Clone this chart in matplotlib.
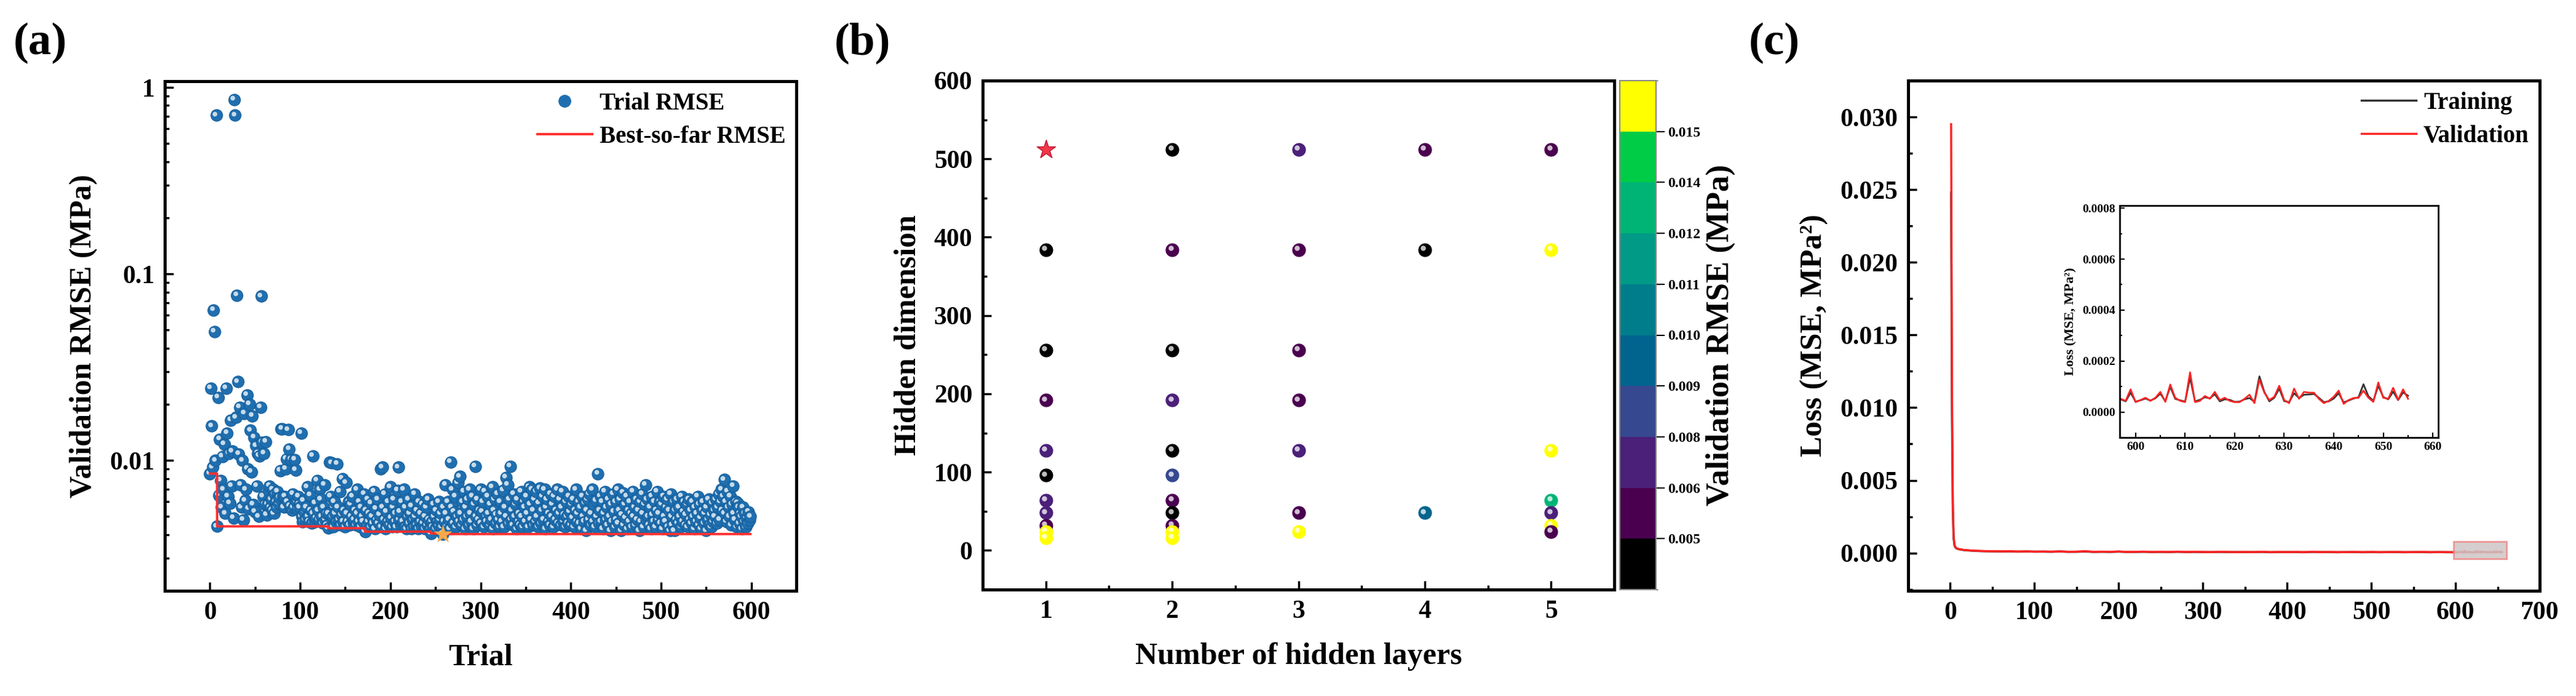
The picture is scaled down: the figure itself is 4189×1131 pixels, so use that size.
import numpy as np
import matplotlib
matplotlib.use('Agg')
import matplotlib.pyplot as plt
import matplotlib.transforms as mtransforms
from matplotlib.colors import ListedColormap, BoundaryNorm
from matplotlib.cm import ScalarMappable
from matplotlib.ticker import MultipleLocator, LogLocator, NullFormatter, FormatStrFormatter, FixedLocator
from matplotlib.patches import Rectangle
from matplotlib.lines import Line2D

plt.rcParams['font.family'] = ['Liberation Serif', 'DejaVu Serif']
plt.rcParams['font.weight'] = 'bold'
plt.rcParams['axes.labelweight'] = 'bold'

# ---------------- Panel (a) data: validation RMSE per trial (units 1e-5 MPa) -------------
trial_rmse_e5 = [
    850, 2440, 1530, 920, 6400, 4900, 1000, 71000, 443, 2180,
    650, 1300, 780, 560, 1050, 700, 1220, 520, 2440, 1400,
    640, 1090, 590, 1640, 730, 1120, 490, 86000, 71000, 1700,
    7700, 2640, 1080, 1930, 740, 560, 1000, 480, 1790, 610,
    700, 2240, 900, 550, 2000, 1450, 870, 1730, 580, 1330,
    530, 1200, 730, 1090, 500, 1060, 1930, 7600, 1250, 640,
    1090, 580, 1260, 510, 580, 690, 730, 560, 620, 540,
    700, 520, 660, 600, 560, 680, 590, 630, 880, 1480,
    1480, 640, 560, 640, 900, 1020, 600, 1460, 1150, 570,
    1010, 540, 660, 560, 1010, 890, 600, 550, 640, 580,
    560, 1400, 500, 470, 610, 530, 480, 560, 720, 500,
    470, 650, 540, 460, 1060, 520, 470, 590, 490, 780,
    540, 480, 700, 620, 500, 460, 560, 740, 480, 520,
    450, 433, 520, 980, 640, 970, 500, 440, 600, 520,
    470, 960, 560, 480, 680, 450, 510, 800, 470, 540,
    440, 760, 520, 470, 600, 450, 580, 500, 640, 460,
    480, 540, 450, 700, 520, 470, 600, 440, 560, 500,
    470, 660, 415, 540, 450, 620, 470, 520, 440, 590,
    500, 460, 680, 430, 550, 480, 620, 460, 510, 900,
    440, 920, 560, 480, 660, 430, 530, 470, 600, 450,
    720, 490, 440, 560, 620, 470, 520, 440, 690, 920,
    480, 530, 450, 600, 470, 700, 440, 560, 430, 500,
    620, 460, 520, 430, 570, 480, 440, 660, 500, 450,
    540, 430, 600, 470, 520, 440, 580, 460, 430, 500,
    560, 450, 620, 480, 430, 406, 470, 440, 580, 500,
    430, 540, 470, 450, 600, 480, 520, 440, 403, 560,
    470, 740, 520, 450, 600, 480, 430, 980, 560, 700,
    460, 530, 640, 440, 500, 760, 470, 820, 520, 450,
    600, 480, 680, 430, 560, 500, 620, 450, 700, 520,
    470, 640, 430, 580, 930, 500, 450, 620, 480, 540,
    700, 460, 530, 600, 440, 680, 500, 470, 640, 520,
    450, 580, 480, 720, 430, 540, 620, 460, 510, 660,
    480, 440, 600, 520, 470, 690, 440, 560, 810, 500,
    740, 460, 620, 930, 480, 540, 450, 660, 500, 580,
    430, 620, 470, 520, 450, 680, 500, 440, 600, 560,
    470, 640, 520, 440, 720, 580, 480, 700, 450, 540,
    620, 470, 680, 500, 440, 590, 710, 460, 540, 640,
    480, 700, 430, 560, 620, 470, 520, 450, 660, 500,
    580, 440, 640, 480, 540, 700, 460, 520, 620, 450,
    560, 680, 470, 510, 440, 600, 500, 460, 640, 530,
    450, 580, 490, 620, 440, 540, 700, 470, 520, 600,
    460, 560, 430, 640, 500, 470, 590, 420, 540, 620,
    480, 660, 450, 520, 700, 470, 580, 440, 610, 500,
    850, 460, 540, 640, 470, 600, 430, 520, 680, 480,
    560, 450, 620, 500, 420, 580, 470, 660, 530, 440,
    600, 480, 700, 460, 540, 620, 420, 510, 670, 450,
    580, 490, 640, 430, 540, 470, 600, 520, 440, 680,
    500, 560, 450, 620, 480, 540, 420, 600, 470, 660,
    520, 440, 580, 740, 480, 620, 500, 450, 560, 430,
    640, 510, 470, 600, 440, 540, 680, 480, 520, 600,
    460, 580, 430, 640, 500, 470, 560, 620, 440, 540,
    420, 660, 500, 450, 600, 420, 540, 480, 620, 460,
    560, 500, 440, 640, 470, 530, 600, 450, 510, 580,
    440, 620, 480, 540, 460, 600, 500, 430, 560, 470,
    520, 640, 450, 580, 490, 430, 540, 600, 460, 520,
    420, 560, 480, 620, 450, 510, 440, 590, 470, 540,
    500, 620, 460, 560, 660, 480, 600, 700, 540, 640,
    790, 520, 600, 470, 680, 560, 500, 640, 450, 580,
    730, 520, 480, 600, 440, 590, 560, 460, 520, 500,
    430, 560, 470, 520, 440, 490, 460, 530, 480, 500,
]

# ---------------- Panel (b) data -------------
layers_b = [1, 1, 1, 1, 1, 1, 1, 1, 1, 1, 1,
            2, 2, 2, 2, 2, 2, 2, 2, 2, 2, 2,
            3, 3, 3, 3, 3, 3, 3,
            4, 4, 4,
            5, 5, 5, 5, 5, 5, 5]
dims_b = [512, 384, 256, 192, 128, 96, 64, 48, 32, 24, 16,
          512, 384, 256, 192, 128, 96, 64, 48, 32, 24, 16,
          512, 384, 256, 192, 128, 48, 24,
          512, 384, 48,
          512, 384, 128, 64, 48, 32, 24]
rmse_b = [0.00403, 0.0046, 0.0047, 0.0056, 0.0068, 0.0048, 0.0066, 0.0067, 0.0057, 0.0170, 0.0190,
          0.0045, 0.0058, 0.0046, 0.0069, 0.0047, 0.0082, 0.0059, 0.0048, 0.0057, 0.0200, 0.0250,
          0.0070, 0.0060, 0.0058, 0.0057, 0.0068, 0.0059, 0.0180,
          0.0060, 0.0046, 0.0095,
          0.0060, 0.0220, 0.0300, 0.0130, 0.0071, 0.0160, 0.0058]
cbar_bounds = [0.00375, 0.005, 0.00625, 0.0075, 0.00875, 0.010, 0.01125, 0.0125, 0.01375, 0.015, 0.01625]
cbar_labels = ['0.005', '0.006', '0.008', '0.009', '0.010', '0.011', '0.012', '0.014', '0.015']
cbar_colors = ['#000000', '#4a004f', '#4b2079', '#354890', '#00648e', '#007d8b', '#009a86',
               '#00b476', '#00cc46', '#ffff00']

# ---------------- Panel (c) data (loss, units 1e-5 MPa^2) -------------
epochs_main = [1, 2, 3, 4, 5, 6, 7, 8, 9, 10, 12, 14, 16, 18, 20, 25, 30, 35, 40, 50,
               60, 70, 80, 90, 100, 110, 120, 130, 140, 150, 160, 170, 180, 190, 200,
               210, 220, 230, 240, 250, 260, 270, 280, 290, 300, 310, 320, 330, 340, 350,
               360, 370, 380, 390, 400, 410, 420, 430, 440, 450, 460, 470, 480, 490, 500,
               510, 520, 530, 540, 550, 560, 570, 580, 590]
val_main_e5 = [2950, 1180, 350, 115, 58, 42, 35, 31, 29, 27, 25, 23, 21, 20, 19, 17, 15, 14, 13, 12,
               11, 12, 10, 11, 9, 10, 9, 11, 8, 9, 12, 8, 9, 8, 10,
               7, 8, 9, 7, 8, 7, 9, 7, 8, 7, 6, 8, 7, 6, 7,
               6, 8, 6, 7, 6, 7, 6, 8, 6, 7, 6, 6, 7, 6, 7,
               6, 6, 7, 6, 6, 7, 6, 6, 6]
train_main_e5 = [2480, 950, 300, 100, 52, 39, 33, 30, 28, 26, 24, 22, 20, 19, 18, 16, 14, 13, 12, 11,
                 10, 11, 9, 10, 9, 9, 8, 10, 8, 8, 10, 7, 8, 7, 9,
                 7, 7, 8, 6, 7, 6, 8, 6, 7, 6, 6, 7, 6, 6, 6,
                 6, 7, 5, 6, 6, 6, 5, 7, 6, 6, 5, 6, 6, 5, 6,
                 5, 6, 6, 5, 6, 6, 5, 6, 5]
epochs_tail = list(range(597, 656))
val_tail_e5 = [5.2, 4.4, 8.9, 3.9, 4.7, 5.6, 4.4, 5.6, 7.9, 4.0,
               10.8, 5.6, 4.4, 3.9, 15.6, 3.9, 4.4, 6.3, 5.2, 7.9,
               4.7, 5.6, 4.4, 3.9, 3.9, 5.2, 6.8, 3.5, 12.7, 7.6,
               4.7, 6.0, 10.3, 4.7, 3.5, 9.2, 5.2, 7.9, 7.6, 7.6,
               5.2, 3.5, 4.4, 6.0, 8.4, 3.2, 4.7, 5.5, 5.6, 8.4,
               5.6, 4.0, 11.6, 5.6, 5.2, 9.5, 4.8, 8.9, 5.2]
train_tail_e5 = [5.0, 4.2, 7.6, 4.1, 4.6, 5.3, 4.5, 5.4, 7.2, 4.3,
                 9.9, 5.2, 4.6, 4.1, 13.4, 4.2, 4.8, 5.8, 5.4, 7.0,
                 4.2, 5.0, 4.8, 4.0, 4.1, 5.0, 5.5, 4.0, 14.0, 7.9,
                 4.2, 5.6, 9.2, 4.3, 3.9, 7.4, 5.5, 6.8, 6.9, 7.1,
                 5.6, 3.9, 4.2, 5.3, 7.4, 3.8, 4.5, 5.3, 5.8, 10.9,
                 6.2, 4.4, 10.3, 5.9, 5.0, 8.0, 4.7, 7.7, 6.4]

# ------------------------------------------------------------------
W, H = 4189, 1131
DPI = 100
fig = plt.figure(figsize=(W / DPI, H / DPI), dpi=DPI)


def frac(l, r, t, b):
    return [l / W, 1 - b / H, (r - l) / W, (b - t) / H]


def style(ax, lw=3.6, labelsize=30, major=10, minor=5, tw=2.5):
    for sp in ax.spines.values():
        sp.set_linewidth(lw)
    ax.tick_params(which='both', direction='in', top=False, right=False, width=tw,
                   labelsize=labelsize)
    ax.tick_params(which='major', length=major, pad=12)
    ax.tick_params(which='minor', length=minor)


def spheres(ax, xs, ys, colors, s, z0=3.0, edge=None):
    off = mtransforms.ScaledTranslation(-2.6 / DPI, 2.6 / DPI, fig.dpi_scale_trans)
    n = len(xs)
    for i in range(n):
        z = z0 + i / (n + 1)
        ec = edge if edge is not None else colors[i]
        ax.scatter([xs[i]], [ys[i]], s=s, color=colors[i], edgecolors=ec, linewidths=0.8, zorder=z)
        ax.scatter([xs[i]], [ys[i]], s=s * 0.16, color='white', alpha=0.75, linewidths=0,
                   transform=ax.transData + off, zorder=z + 0.5 / (n + 1))


# ---------------- Panel (a) -------------
ax1 = fig.add_axes(frac(268, 1295, 132, 960))
style(ax1)
rmse_a = np.array(trial_rmse_e5) * 1e-5
trials = np.arange(len(rmse_a))
best = np.minimum.accumulate(rmse_a)
ax1.set_yscale('log')
ax1.set_xlim(-50, 650)
ax1.set_ylim(0.002, 1.08)
spheres(ax1, trials, rmse_a, ['#1f6fb0'] * len(trials), s=190, edge='#155c98')
ax1.step(trials, best, where='post', color='#ff3030', lw=2.8, zorder=10)
ib = int(np.argmin(rmse_a))
ax1.scatter([trials[ib]], [rmse_a[ib]], marker='*', s=520, color='#f6a84a', zorder=11, linewidths=0)
ax1.set_xticks(np.arange(0, 601, 100))
ax1.xaxis.set_minor_locator(MultipleLocator(50))
ax1.yaxis.set_major_locator(FixedLocator([0.01, 0.1, 1]))
ax1.set_yticklabels(['0.01', '0.1', '1'])
ax1.yaxis.set_minor_locator(LogLocator(base=10, subs=np.arange(2, 10)))
ax1.yaxis.set_minor_formatter(NullFormatter())
ax1.set_xlabel('Trial', fontsize=36, labelpad=22)
ax1.set_ylabel('Validation RMSE (MPa)', fontsize=36, labelpad=14)
h1 = [Line2D([], [], marker='o', ls='', color='#1f6fb0', markersize=14),
      Line2D([], [], color='#ff3030', lw=2.8)]
ax1.legend(h1, ['Trial RMSE', 'Best-so-far RMSE'], loc='upper right', frameon=False, fontsize=28,
           handlelength=2.3, handletextpad=0.3, labelspacing=0.45, borderaxespad=0.25,
           borderpad=0.2)

# ---------------- Panel (b) -------------
ax2 = fig.add_axes(frac(1598, 2625, 131, 958))
style(ax2)
cmap = ListedColormap(cbar_colors)
norm = BoundaryNorm(cbar_bounds, cmap.N, clip=True)
ax2.set_xlim(0.5, 5.5)
ax2.set_ylim(-50, 600)
ib2 = int(np.argmin(rmse_b))
idx = [i for i in range(len(layers_b)) if i != ib2]
cols = [cmap(norm(rmse_b[i])) for i in idx]
spheres(ax2, [layers_b[i] for i in idx], [dims_b[i] for i in idx], cols, s=230)
ax2.scatter([layers_b[ib2]], [dims_b[ib2]], marker='*', s=520, color='#f0384a',
            edgecolors='#c0102a', linewidths=1.0, zorder=20)
ax2.set_xticks([1, 2, 3, 4, 5])
ax2.xaxis.set_minor_locator(MultipleLocator(0.5))
ax2.set_yticks(np.arange(0, 601, 100))
ax2.yaxis.set_minor_locator(MultipleLocator(50))
ax2.set_xlabel('Number of hidden layers', fontsize=36, labelpad=22)
ax2.set_ylabel('Hidden dimension', fontsize=36, labelpad=14)

cax = fig.add_axes(frac(2634, 2693, 131, 958))
sm = ScalarMappable(norm=norm, cmap=cmap)
cb = fig.colorbar(sm, cax=cax, ticks=cbar_bounds[1:-1])
cb.set_ticklabels(cbar_labels)
cb.ax.tick_params(labelsize=17, length=10, width=1.5, direction='out', pad=4)
cb.outline.set_edgecolor('#888888')
cb.outline.set_linewidth(1.5)
cb.set_label('Validation RMSE (MPa)', fontsize=38, labelpad=6)

# ---------------- Panel (c) -------------
ax3 = fig.add_axes(frac(3103, 4130, 131, 960))
style(ax3)
ep = np.array(epochs_main + epochs_tail)
val = np.array(val_main_e5 + val_tail_e5) * 1e-5
trn = np.array(train_main_e5 + train_tail_e5) * 1e-5
ax3.plot(ep, trn, color='#333333', lw=2.5, label='Training', zorder=3)
ax3.plot(ep, val, color='#ff2424', lw=2.5, label='Validation', zorder=4)
ax3.add_patch(Rectangle((597.5, -0.0004), 63, 0.0012, facecolor='#cfc6c6', edgecolor='#f08888',
                        lw=2, alpha=0.85, zorder=5))
ax3.set_xlim(-50, 700)
ax3.set_ylim(-0.0026, 0.0325)
ax3.set_xticks(np.arange(0, 701, 100))
ax3.xaxis.set_minor_locator(MultipleLocator(50))
ax3.set_yticks(np.arange(0, 0.0301, 0.005))
ax3.yaxis.set_minor_locator(MultipleLocator(0.0025))
ax3.yaxis.set_major_formatter(FormatStrFormatter('%.3f'))
ax3.set_ylabel('Loss (MSE, MPa²)', fontsize=36, labelpad=14)
ax3.legend(loc='upper right', frameon=False, fontsize=28, handlelength=2.3, handletextpad=0.3,
           labelspacing=0.45, borderaxespad=0.25, borderpad=0.2)

axin = fig.add_axes(frac(3447, 3965, 334, 711))
style(axin, lw=2.0, labelsize=14, major=6, minor=3, tw=1.6)
axin.tick_params(which='major', pad=5)
axin.plot(epochs_tail, np.array(train_tail_e5) * 1e-5, color='#333333', lw=2.0)
axin.plot(epochs_tail, np.array(val_tail_e5) * 1e-5, color='#ff2424', lw=2.0)
axin.set_xlim(596.8, 661.1)
axin.set_ylim(-0.0001, 0.00081)
axin.set_xticks(np.arange(600, 661, 10))
axin.xaxis.set_minor_locator(MultipleLocator(5))
axin.set_yticks(np.arange(0, 0.00081, 0.0002))
axin.yaxis.set_minor_locator(MultipleLocator(0.0001))
axin.yaxis.set_major_formatter(FormatStrFormatter('%.4f'))
axin.set_ylabel('Loss (MSE, MPa²)', fontsize=16, labelpad=6)

# ---------------- Panel labels -------------
for xl, t in [(22, '(a)'), (1357, '(b)'), (2844, '(c)')]:
    fig.text(xl / W, 1 - 70 / H, t, fontsize=54, fontweight='bold', ha='left', va='center')

fig.savefig('out.png', dpi=DPI)
